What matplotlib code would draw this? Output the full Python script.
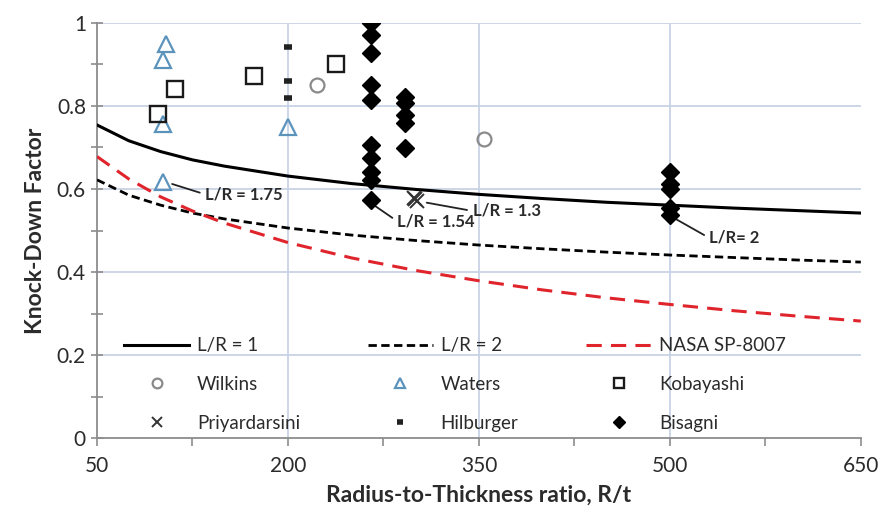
import numpy as np
import matplotlib
matplotlib.use("Agg")
import matplotlib.pyplot as plt

plt.rcParams['font.family'] = ['Lato', 'DejaVu Sans']

# curves
rt = [50, 75, 100, 125, 150, 200, 250, 300, 350, 400, 450, 500, 550, 600, 650]
lr1 = [0.754, 0.716, 0.690, 0.670, 0.655, 0.631, 0.613, 0.599, 0.587, 0.577, 0.568, 0.561, 0.554, 0.548, 0.542]
lr2 = [0.622, 0.585, 0.561, 0.542, 0.528, 0.506, 0.489, 0.476, 0.465, 0.456, 0.448, 0.441, 0.435, 0.429, 0.424]
nasa = [0.678, 0.624, 0.581, 0.547, 0.518, 0.471, 0.434, 0.404, 0.379, 0.357, 0.338, 0.322, 0.307, 0.294, 0.282]

# test data
wilkins_x = [223, 354]
wilkins_y = [0.85, 0.72]
waters_x = [104, 102, 102, 102, 200]
waters_y = [0.95, 0.91, 0.757, 0.617, 0.748]
koba_x = [98, 111, 173, 238]
koba_y = [0.78, 0.84, 0.872, 0.90]
priya_x = [299, 301, 300]
priya_y = [0.578, 0.572, 0.575]
hil_x = [200, 200, 200]
hil_y = [0.942, 0.860, 0.819]
bis_x = [265] * 10 + [292] * 5 + [500] * 5
bis_y = [1.0, 0.971, 0.928, 0.851, 0.814, 0.706, 0.675, 0.640, 0.622, 0.573,
         0.822, 0.807, 0.778, 0.759, 0.699,
         0.641, 0.612, 0.600, 0.554, 0.537]

x_ticks = [50, 200, 350, 500, 650]
x_minor = [125, 275, 425, 575]
y_ticks = [0, 0.2, 0.4, 0.6, 0.8, 1.0]
y_labels = ['0', '0.2', '0.4', '0.6', '0.8', '1']
y_minor = [0.1, 0.3, 0.5, 0.7, 0.9]

# annotations: text, marker point, text position
notes = [("L/R = 1.75", (109, 0.612), (135, 0.587)),
         ("L/R = 1.54", (268, 0.560), (286, 0.522)),
         ("L/R = 1.3", (309, 0.567), (345, 0.547)),
         ("L/R= 2", (505, 0.527), (531, 0.482))]

grid_c = '#c9d3e6'
spine_c = '#8c8c8c'
text_c = '#2b2b2b'

fig = plt.figure(figsize=(8.82, 5.18), dpi=100)
ax = fig.add_axes([0.110, 0.154, 0.866, 0.802])

ax.plot(rt, lr1, color='black', lw=2.2, label='L/R = 1', zorder=3)
ax.plot(rt, lr2, color='black', lw=2.0, dashes=(3, 1.6), label='L/R = 2', zorder=3)
ax.plot(rt, nasa, color='#e0242c', lw=2.2, dashes=(5, 3), label='NASA SP-8007', zorder=3)

ax.plot(wilkins_x, wilkins_y, ls='none', marker='o', ms=10, mfc='none', mec='#8a8a8a', mew=1.6,
        label='Wilkins', zorder=4)
ax.plot(waters_x, waters_y, ls='none', marker='^', ms=11, mfc='none', mec='#5b93bd', mew=1.6,
        label='Waters', zorder=4)
ax.plot(koba_x, koba_y, ls='none', marker='s', ms=11, mfc='none', mec='#1a1a1a', mew=1.7,
        label='Kobayashi', zorder=4)
ax.plot(priya_x, priya_y, ls='none', marker='x', ms=10, mec='#333333', mew=1.4,
        label='Priyardarsini', zorder=4)
ax.plot(hil_x, hil_y, ls='none', marker='_', ms=6, mec='#222222', mew=4,
        label='Hilburger', zorder=4)
ax.plot(bis_x, bis_y, ls='none', marker='D', ms=9, color='black',
        label='Bisagni', zorder=4)

for txt, pt, tp in notes:
    ax.annotate(txt, xy=pt, xytext=tp, fontsize=12, fontweight='bold', color=text_c,
                va='center', ha='left',
                arrowprops=dict(arrowstyle='-', color='#222222', lw=1.3, shrinkA=2, shrinkB=0,
                                relpos=(0, 0.5)))

ax.set_xlim(50, 650)
ax.set_ylim(0, 1)
ax.set_xticks(x_ticks)
ax.set_xticks(x_minor, minor=True)
ax.set_yticks(y_ticks)
ax.set_yticklabels(y_labels)
ax.set_yticks(y_minor, minor=True)
ax.grid(True, which='major', color=grid_c, lw=1.3, zorder=0)
ax.set_axisbelow(True)
ax.get_xgridlines()[0].set_visible(False)
ax.get_xgridlines()[-1].set_visible(False)
ax.get_ygridlines()[0].set_visible(False)

for s in ['top', 'right']:
    ax.spines[s].set_visible(False)
for s in ['left', 'bottom']:
    ax.spines[s].set_color(spine_c)
    ax.spines[s].set_linewidth(1.3)
ax.tick_params(which='both', color=spine_c, width=1.2, labelsize=15, labelcolor=text_c)
ax.tick_params(axis='y', which='both', direction='inout', length=9)
ax.tick_params(axis='x', which='both', direction='out', length=6)
ax.tick_params(axis='x', pad=7)

ax.set_xlabel('Radius-to-Thickness ratio, R/t', fontsize=16.5, fontweight='bold', color=text_c,
              labelpad=6)
ax.set_ylabel('Knock-Down Factor', fontsize=16.5, fontweight='bold', color=text_c, labelpad=8)

# row-wise legend order for 3 columns
h, l = ax.get_legend_handles_labels()
order = [0, 3, 6, 1, 4, 7, 2, 5, 8]
leg = ax.legend([h[i] for i in order], [l[i] for i in order],
                loc='lower left', ncol=3, frameon=False, fontsize=13.5, markerscale=0.7,
                handlelength=3.5, columnspacing=3.6, handletextpad=0.4, labelspacing=1.15,
                borderpad=0, borderaxespad=0, bbox_to_anchor=(0.035, 0.016))
for t in leg.get_texts():
    t.set_color(text_c)

fig.savefig('out.png', dpi=100)
